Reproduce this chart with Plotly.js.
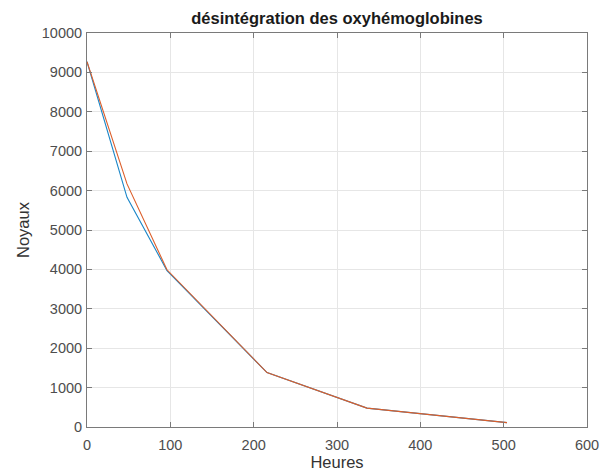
<!DOCTYPE html>
<html>
<head>
<meta charset="utf-8">
<script src="https://cdn.plot.ly/plotly-3.0.1.min.js"></script>
<style>html,body{margin:0;padding:0;background:#fff;}#chart{width:605px;height:474px;}</style>
</head>
<body>
<div id="chart"></div>
<script>
const heures = [0, 48, 96, 216, 336, 504];
const noyauxBleu = [9270, 5830, 3970, 1380, 480, 110];
const noyauxOrange = [9270, 6170, 3990, 1380, 480, 110];
const xTicks = [0, 100, 200, 300, 400, 500, 600];
const yTicks = [0, 1000, 2000, 3000, 4000, 5000, 6000, 7000, 8000, 9000, 10000];

const FONT = 'Liberation Sans, Arial, sans-serif';

const traces = [
  {x: heures, y: noyauxBleu, type: 'scatter', mode: 'lines', line: {color: '#1a86c8', width: 1.1}, showlegend: false},
  {x: heures, y: noyauxOrange, type: 'scatter', mode: 'lines', line: {color: '#dc5e2a', width: 1.1}, showlegend: false}
];

const axisCommon = {
  showline: true, linecolor: '#7a7a7a', linewidth: 1, mirror: 'ticks',
  ticks: 'inside', ticklen: 5, tickcolor: '#7a7a7a',
  showgrid: true, gridcolor: '#e6e6e6', gridwidth: 1,
  zeroline: false,
  tickfont: {family: FONT, size: 14.5, color: '#4d4d4d'}
};

const layout = {
  width: 605, height: 474,
  margin: {l: 87, r: 18, t: 33, b: 47},
  paper_bgcolor: '#ffffff', plot_bgcolor: '#ffffff',
  title: {text: '<b>désintégration des oxyhémoglobines</b>', x: 0.5, xref: 'paper', xanchor: 'center', y: 1 - 18/474, yanchor: 'middle', yref: 'container',
    font: {family: FONT, size: 16.5, color: '#1a1a1a'}},
  xaxis: Object.assign({}, axisCommon, {range: [0, 600], tickvals: xTicks, ticktext: xTicks.map(String), ticklabelstandoff: 5,
    title: {text: 'Heures', standoff: 4, font: {family: FONT, size: 16.5, color: '#333'}}}),
  yaxis: Object.assign({}, axisCommon, {range: [0, 10000], tickvals: yTicks, ticktext: yTicks.map(String), ticklabelstandoff: 1,
    title: {text: 'Noyaux', standoff: 7, font: {family: FONT, size: 16.5, color: '#333'}}}),
  showlegend: false
};

Plotly.newPlot('chart', traces, layout, {displayModeBar: false, staticPlot: true});
</script>
</body>
</html>
